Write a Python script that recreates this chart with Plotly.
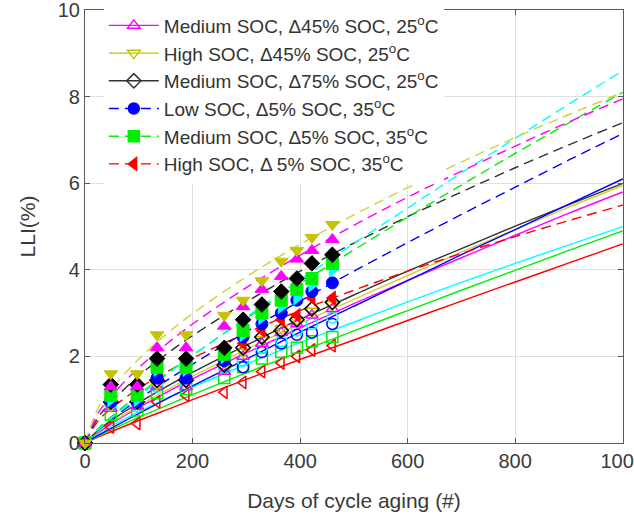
import plotly.graph_objects as go

DAYS = [0, 48, 97, 134, 188, 259, 294, 329, 365, 394, 422, 460]

# filled-marker measurements
YEL_F = [0, 1.6, 1.6, 2.5, 2.5, 2.95, 3.3, 3.75, 4.2, 4.45, 4.75, 5.05]
MAG_F = [0, 1.3, 1.3, 2.2, 2.2, 2.7, 3.15, 3.55, 3.85, 4.25, 4.45, 4.7]
BLK_F = [0, 1.35, 1.35, 1.95, 1.95, 2.2, 2.85, 3.2, 3.5, 3.8, 4.15, 4.35]
GRN_F = [0, 1.1, 1.1, 1.75, 1.75, 2.05, 2.6, 3.0, 3.3, 3.55, 3.8, 4.15]
CYN_F = [0, 1.0, 1.0, 1.7, 1.7, 2.0, 2.5, 2.9, 3.15, 3.35, 3.65, 4.0]
BLU_F = [0, 0.95, 0.95, 1.5, 1.5, 1.9, 2.45, 2.75, 3.0, 3.3, 3.5, 3.7]
RED_F = [0, 1.0, 1.0, 1.5, 1.5, 2.0, 2.3, 2.6, 2.85, 2.95, 3.35, 3.35]

# open-marker measurements
YEL_O = [0, 0.85, 0.9, 1.35, 1.4, 1.75, 2.1, 2.4, 2.65, 2.85, 3.05, 3.2]
MAG_O = [0, 0.8, 0.85, 1.3, 1.3, 1.65, 2.0, 2.3, 2.55, 2.75, 2.95, 3.1]
BLK_O = [0, 0.95, 0.95, 1.45, 1.45, 1.8, 2.2, 2.45, 2.6, 2.85, 3.1, 3.25]
CYN_O = [0, 0.85, 0.85, 1.3, 1.35, 1.75, 1.9, 2.2, 2.35, 2.6, 2.75, 2.9]
BLU_O = [0, 0.9, 0.9, 1.5, 1.5, 1.75, 1.75, 2.1, 2.3, 2.5, 2.55, 2.75]
GRN_O = [0, 0.65, 0.75, 1.15, 1.25, 1.5, 1.75, 1.95, 2.1, 2.2, 2.35, 2.45]
RED_O = [0, 0.37, 0.45, 0.95, 1.1, 1.17, 1.4, 1.65, 1.85, 2.0, 2.15, 2.25]

# fitted curves
FIT_X = [0, 25, 50, 100, 150, 200, 300, 400, 500, 600, 700, 800, 900, 1000]
YEL_DASH = [0, 0.82, 1.26, 1.94, 2.50, 2.99, 3.84, 4.59, 5.27, 5.90, 6.49, 7.06, 7.59, 8.1]
MAG_DASH = [0, 0.70, 1.10, 1.74, 2.27, 2.75, 3.59, 4.34, 5.03, 5.68, 6.28, 6.86, 7.42, 7.95]
CYN_DASH = [0, 0.31, 0.58, 1.08, 1.56, 2.02, 2.91, 3.77, 4.61, 5.43, 6.24, 7.04, 7.83, 8.6]
GRN_DASH = [0, 0.34, 0.62, 1.12, 1.59, 2.03, 2.88, 3.68, 4.46, 5.22, 5.96, 6.69, 7.40, 8.1]
BLK_DASH = [0, 0.60, 0.96, 1.55, 2.04, 2.48, 3.26, 3.97, 4.62, 5.23, 5.80, 6.36, 6.89, 7.4]
BLU_DASH = [0, 0.31, 0.56, 1.01, 1.43, 1.82, 2.57, 3.28, 3.97, 4.63, 5.28, 5.91, 6.54, 7.15]
RED_DASH = [0, 0.52, 0.81, 1.26, 1.63, 1.96, 2.54, 3.06, 3.53, 3.97, 4.38, 4.77, 5.14, 5.5]

BLU_SOLID = [0, 0.18, 0.35, 0.68, 1.01, 1.32, 1.94, 2.56, 3.16, 3.75, 4.35, 4.93, 5.52, 6.1]
BLK_SOLID = [0, 0.30, 0.53, 0.93, 1.29, 1.63, 2.26, 2.86, 3.42, 3.97, 4.49, 5.01, 5.51, 6.0]
YEL_SOLID = [0, 0.27, 0.48, 0.86, 1.21, 1.54, 2.16, 2.76, 3.32, 3.87, 4.41, 4.93, 5.45, 5.95]
MAG_SOLID = [0, 0.25, 0.45, 0.82, 1.16, 1.48, 2.08, 2.66, 3.22, 3.76, 4.28, 4.80, 5.31, 5.8]
CYN_SOLID = [0, 0.23, 0.40, 0.72, 1.02, 1.29, 1.82, 2.32, 2.79, 3.26, 3.71, 4.15, 4.58, 5.0]
GRN_SOLID = [0, 0.16, 0.31, 0.59, 0.86, 1.12, 1.62, 2.11, 2.59, 3.06, 3.53, 3.99, 4.45, 4.9]
RED_SOLID = [0, 0.14, 0.27, 0.52, 0.76, 1.00, 1.47, 1.93, 2.38, 2.83, 3.28, 3.72, 4.16, 4.6]

X_TICKS = [0, 200, 400, 600, 800, 1000]
Y_TICKS = [0, 2, 4, 6, 8, 10]

LEGEND_NAMES = [
    "Medium SOC, \u039445% SOC, 25<sup>o</sup>C",
    "High SOC, \u039445% SOC, 25<sup>o</sup>C",
    "Medium SOC, \u039475% SOC, 25<sup>o</sup>C",
    "Low SOC, \u03945% SOC, 35<sup>o</sup>C",
    "Medium SOC, \u03945% SOC, 35<sup>o</sup>C",
    "High SOC, \u0394 5% SOC, 35<sup>o</sup>C",
]

C = {"mag": "#ff00ff", "yel": "#c4c400", "blk": "#000000", "blu": "#0000ff",
     "grn": "#00ee00", "red": "#ff0000", "cyn": "#00ffff"}
YEL_LINE = "#d0d040"

fig = go.Figure()
DASH = "10px,6px"

# solid fits
for ys, col in [(RED_SOLID, C["red"]), (GRN_SOLID, C["grn"]), (CYN_SOLID, C["cyn"]),
                (MAG_SOLID, C["mag"]), (YEL_SOLID, YEL_LINE), (BLK_SOLID, "#303030"),
                (BLU_SOLID, C["blu"])]:
    fig.add_trace(go.Scatter(x=FIT_X, y=ys, mode="lines", line=dict(color=col, width=1.4, shape="spline"),
                             showlegend=False, hoverinfo="skip"))
# dashed fits
for ys, col in [(RED_DASH, C["red"]), (BLU_DASH, C["blu"]), (BLK_DASH, "#303030"),
                (GRN_DASH, C["grn"]), (CYN_DASH, C["cyn"]), (MAG_DASH, C["mag"]),
                (YEL_DASH, YEL_LINE)]:
    fig.add_trace(go.Scatter(x=FIT_X, y=ys, mode="lines",
                             line=dict(color=col, width=1.4, dash=DASH, shape="spline"),
                             showlegend=False, hoverinfo="skip"))

# open markers
for ys, col, sym in [(RED_O, C["red"], "triangle-left-open"), (GRN_O, C["grn"], "square-open"),
                     (BLU_O, C["blu"], "circle-open"), (CYN_O, C["cyn"], "circle-open"),
                     (MAG_O, C["mag"], "triangle-up-open"), (YEL_O, C["yel"], "triangle-down-open"),
                     (BLK_O, C["blk"], "diamond-open")]:
    fig.add_trace(go.Scatter(x=DAYS, y=ys, mode="markers", cliponaxis=False,
                             marker=dict(symbol=sym, size=11, color=col, line=dict(width=1.5, color=col)),
                             showlegend=False))
# filled markers
for ys, col, sym in [(RED_F, C["red"], "triangle-left"), (BLU_F, C["blu"], "circle"),
                     (CYN_F, C["cyn"], "triangle-right"), (GRN_F, C["grn"], "square"),
                     (BLK_F, C["blk"], "diamond"), (MAG_F, C["mag"], "triangle-up"),
                     (YEL_F, C["yel"], "triangle-down")]:
    fig.add_trace(go.Scatter(x=DAYS, y=ys, mode="markers", cliponaxis=False,
                             marker=dict(symbol=sym, size=12, color=col, line=dict(width=1, color=col)),
                             showlegend=False))

# legend entries
leg_styles = [
    (C["mag"], "triangle-up-open", "solid"),
    (C["yel"], "triangle-down-open", "solid"),
    ("#303030", "diamond-open", "solid"),
    (C["blu"], "circle", DASH),
    (C["grn"], "square", DASH),
    (C["red"], "triangle-left", DASH),
]
for name, (col, sym, dash) in zip(LEGEND_NAMES, leg_styles):
    fig.add_trace(go.Scatter(x=[None], y=[None], mode="lines+markers", name=name,
                             line=dict(color=col, width=1.4, dash=dash),
                             marker=dict(symbol=sym, size=11, color=col, line=dict(width=1.5, color=col))))

axis_common = dict(showgrid=True, gridcolor="#dedede", gridwidth=1, zeroline=False,
                   showline=True, linecolor="#5a5a5a", linewidth=1.2, mirror="ticks",
                   ticks="inside", ticklen=5, tickcolor="#5a5a5a", ticklabeloverflow="allow",
                   automargin=False,
                   tickfont=dict(family="Liberation Sans, Arial", size=20, color="#3a3a3a"))

fig.update_layout(
    width=634, height=519,
    margin=dict(l=85, r=11, t=10, b=76, autoexpand=False),
    paper_bgcolor="white", plot_bgcolor="white",
    font=dict(family="Liberation Sans, Arial", color="#3a3a3a"),
    xaxis=dict(range=[0, 1000.5], tickvals=X_TICKS,
               title=dict(text="Days of cycle aging (#)", font=dict(size=21), standoff=22),
               **axis_common),
    yaxis=dict(range=[0, 10.005], tickvals=Y_TICKS,
               title=dict(text="LLI(%)", font=dict(size=21), standoff=16),
               **axis_common),
    legend=dict(x=0.035, y=1.008, xanchor="left", yanchor="top", bgcolor="white",
                borderwidth=0, font=dict(size=19, color="#333333"), itemwidth=50,
                tracegroupgap=0),
)

fig.write_html("out.html")
